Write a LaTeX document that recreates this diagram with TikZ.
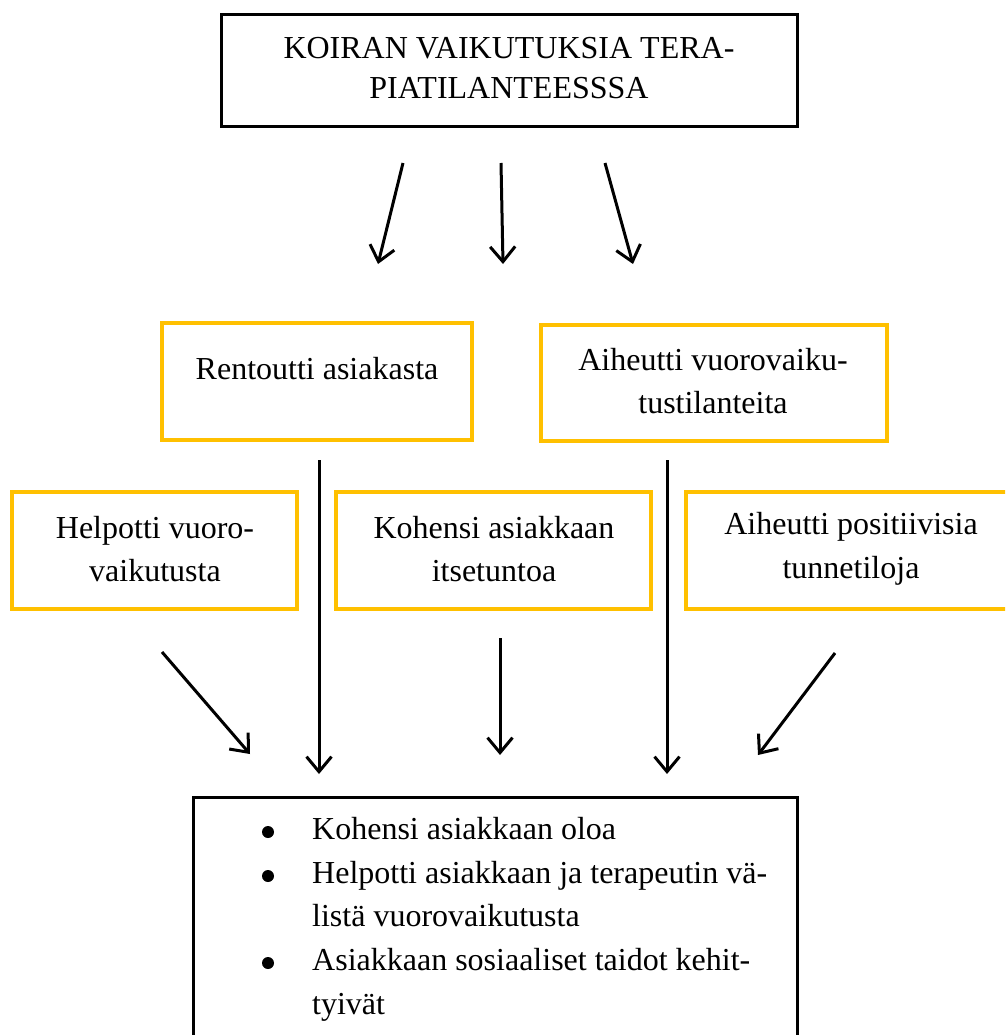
\documentclass[tikz,border=0pt]{standalone}
\usepackage{fontspec}
\setmainfont{Liberation Serif}
\usetikzlibrary{arrows.meta}
\definecolor{gold}{HTML}{FFC000}
\begin{document}
\begin{tikzpicture}[x=1pt,y=-1pt,
  goldbox/.style={draw=gold,line width=4.5pt,inner sep=0pt},
  txt/.style={inner sep=0pt,align=center,font=\fontsize{32}{43.5}\selectfont},
  bul/.style={circle,fill=black,inner sep=0pt,minimum size=12pt},
  arr/.style={line width=3pt,line join=miter,-{Straight Barb[length=15pt,width=25pt,line width=3pt]}}]
\useasboundingbox (0,0) rectangle (1005,1035);
\clip (0,0) rectangle (1005,1035);
% boxes
\node[draw=black,line width=3pt,inner sep=0pt,minimum width=576pt,minimum height=112pt] (top) at (509,71) {};
\node[goldbox,minimum width=310pt,minimum height=117pt] (rent) at (317,381.5) {};
\node[goldbox,minimum width=346pt,minimum height=116pt] (aih) at (714,383) {};
\node[goldbox,minimum width=285pt,minimum height=117pt] (help) at (154.5,550.5) {};
\node[goldbox,minimum width=315pt,minimum height=117pt] (koh) at (493.5,550.5) {};
\node[goldbox,minimum width=330pt,minimum height=117pt] (pos) at (851,550.5) {};
\node[draw=black,line width=3pt,inner sep=0pt,minimum width=604pt,minimum height=300pt] (res) at (495,947) {};
% texts
\node[txt,font=\fontsize{32}{40}\selectfont] (topt) at (509,68) {KOIRAN VAIKUTUKSIA TERA-\\PIATILANTEESSSA};
\node[txt] (rentt) at (317,369) {Rentoutti asiakasta};
\node[txt] (aiht) at (713,381) {Aiheutti vuorovaiku-\\tustilanteita};
\node[txt] (helpt) at (155,549) {Helpotti vuoro-\\vaikutusta};
\node[txt] (koht) at (494,549) {Kohensi asiakkaan\\itsetuntoa};
\node[txt] (post) at (851,549) {Aiheutti positiivisia\\tunnetiloja};
\node[txt,align=left,anchor=north west,font=\fontsize{32}{43.7}\selectfont] (rest) at (312,817)
{Kohensi asiakkaan oloa\\
 Helpotti asiakkaan ja terapeutin vä-\\
 listä vuorovaikutusta\\
 Asiakkaan sosiaaliset taidot kehit-\\
 tyivät};
% bullets
\node[bul] (b1) at (268,832) {};
\node[bul] (b2) at (268,876) {};
\node[bul] (b3) at (268,963) {};
% arrow coordinates
\coordinate (a1s) at (403,163); \coordinate (a1e) at (378,264);
\coordinate (a2s) at (501,163); \coordinate (a2e) at (503,264);
\coordinate (a3s) at (605,163); \coordinate (a3e) at (633,264);
\coordinate (l1s) at (319,460); \coordinate (l1e) at (319,774);
\coordinate (l2s) at (667,460); \coordinate (l2e) at (667,774);
\coordinate (d1s) at (162,652); \coordinate (d1e) at (250,754);
\coordinate (d2s) at (500,638); \coordinate (d2e) at (500,755);
\coordinate (d3s) at (835,653); \coordinate (d3e) at (758,755);
\draw[arr] (a1s) -- (a1e);
\draw[arr] (a2s) -- (a2e);
\draw[arr] (a3s) -- (a3e);
\draw[arr] (l1s) -- (l1e);
\draw[arr] (l2s) -- (l2e);
\draw[arr] (d1s) -- (d1e);
\draw[arr] (d2s) -- (d2e);
\draw[arr] (d3s) -- (d3e);
\end{tikzpicture}
\end{document}
